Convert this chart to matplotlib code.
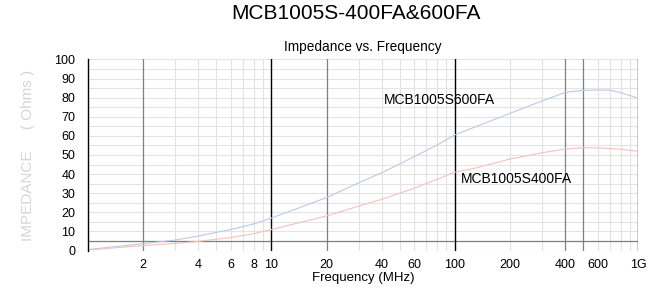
import matplotlib
matplotlib.use("Agg")
import matplotlib.pyplot as plt
from matplotlib.ticker import FixedLocator, NullLocator

plt.rcParams["font.family"] = ["Liberation Sans", "DejaVu Sans"]

# ---------------------------------------------------------------------------
# Data
# ---------------------------------------------------------------------------
freq_mhz = [1, 2, 3, 4, 6, 8, 10, 20, 30, 40, 60, 80, 100, 130, 200, 300,
            400, 500, 600, 700, 800, 1000]
z_600fa = [0.5, 3.6, 5.5, 7.6, 11.0, 13.9, 17.0, 27.7, 35.5, 40.7, 49.1, 55.2,
           60.5, 64.8, 71.8, 78.3, 82.8, 83.8, 84.0, 83.9, 82.6, 79.7]
z_400fa = [0.3, 2.6, 3.7, 4.8, 6.8, 8.8, 11.0, 18.1, 23.3, 26.8, 32.6, 37.3,
           41.0, 43.2, 47.9, 51.2, 53.1, 53.8, 53.7, 53.3, 53.0, 51.9]

xtick_pos = [2, 4, 6, 8, 10, 20, 40, 60, 100, 200, 400, 600, 1000]
xtick_lab = ["2", "4", "6", "8", "10", "20", "40", "60", "100", "200", "400", "600", "1G"]
minor_x = [3, 4, 5, 6, 7, 8, 9, 30, 40, 50, 60, 70, 80, 90,
           200, 300, 600, 700, 800, 900]
grey_x = [2, 20, 400, 500]
black_x = [10, 100, 1000]

# ---------------------------------------------------------------------------
# Plot
# ---------------------------------------------------------------------------
fig = plt.figure(figsize=(6.65, 2.87), dpi=100)
ax = fig.add_axes([0.132, 0.127, 0.828, 0.666])
ax.set_xscale("log")
ax.set_xlim(1, 1000)
ax.set_ylim(0, 100)

for y in range(0, 101, 5):
    ax.axhline(y, color="#e4e4e4", lw=0.8, zorder=0)
ax.axhline(5, color="#808080", lw=0.9, zorder=1)
for x in minor_x:
    ax.axvline(x, color="#e2e2e2", lw=0.8, zorder=0)
for x in grey_x:
    ax.axvline(x, color="#808080", lw=0.9, zorder=1)
for x in black_x:
    ax.axvline(x, color="black", lw=1.0, zorder=1)

ax.plot(freq_mhz, z_600fa, color="#b9cbe6", lw=0.8, zorder=2)
ax.plot(freq_mhz, z_400fa, color="#f3c2bb", lw=0.8, zorder=2)

ax.text(41, 78.8, "MCB1005S600FA", fontsize=10, va="center", ha="left")
ax.text(108, 37.4, "MCB1005S400FA", fontsize=10, va="center", ha="left")

ax.xaxis.set_major_locator(FixedLocator(xtick_pos))
ax.xaxis.set_minor_locator(NullLocator())
ax.set_xticklabels(xtick_lab)
ax.set_yticks(range(0, 101, 10))
ax.tick_params(length=0, labelsize=9, pad=9)
ax.tick_params(axis="x", pad=6)

for side in ["top", "bottom", "right"]:
    ax.spines[side].set_visible(False)
ax.spines["left"].set_color("black")
ax.spines["left"].set_linewidth(1.0)

ax.set_xlabel("Frequency (MHz)", fontsize=9.5, labelpad=1)
ax.set_ylabel("IMPEDANCE     ( Ohms )", fontsize=11, color="#d6d6d6",
              labelpad=14)
ax.set_title("Impedance vs. Frequency", fontsize=9.8, pad=6)
fig.text(0.535, 0.953, "MCB1005S-400FA&600FA", fontsize=15, ha="center", va="center")

fig.savefig("out.png", dpi=100)
